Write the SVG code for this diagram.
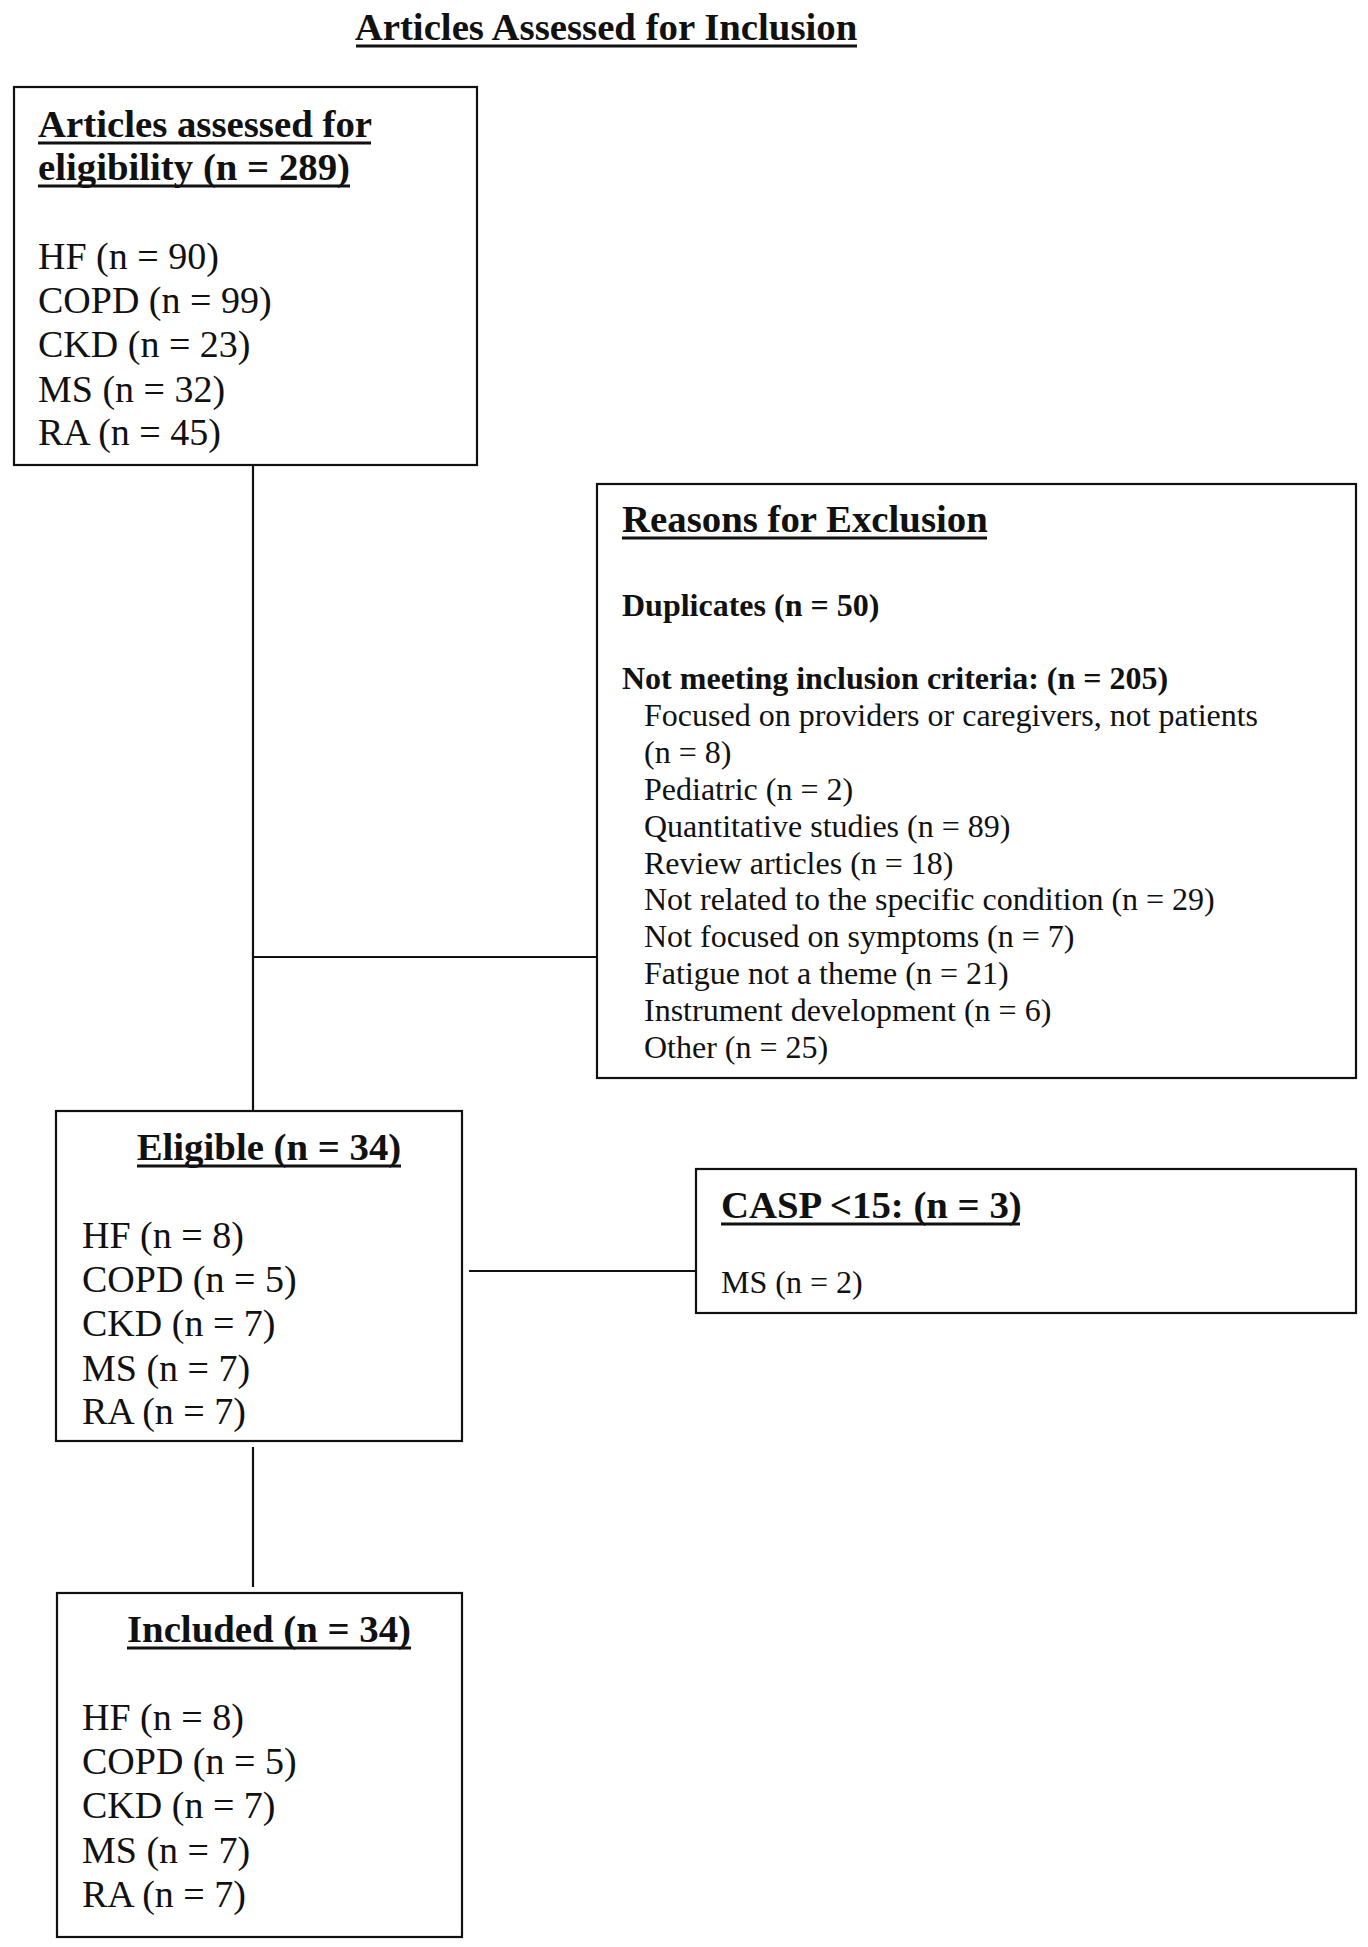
<svg xmlns="http://www.w3.org/2000/svg" width="1368" height="1947" viewBox="0 0 1368 1947">
<style>
text { font-family: "Liberation Serif", "Times New Roman", serif; fill: #111; }
.h { font-weight: bold; font-size: 38.8px; }
.b { font-size: 38px; }
.s { font-size: 32px; }
.sb { font-size: 32px; font-weight: bold; }
.u { stroke: #111; stroke-width: 3; }
.box { fill: #fff; stroke: #111; stroke-width: 2.2; }
.conn line { stroke: #111; stroke-width: 2.2; }
</style>
<rect width="1368" height="1947" fill="#fff"/>
<g id="title">
  <text class="h" x="606" y="40" text-anchor="middle">Articles Assessed for Inclusion</text>
  <line class="u" x1="356" y1="46" x2="857" y2="46"/>
</g>
<g class="conn" id="connectors">
  <line x1="253" y1="465" x2="253" y2="1111"/>
  <line x1="253" y1="957" x2="597" y2="957"/>
  <line x1="469" y1="1271" x2="696" y2="1271"/>
  <line x1="253" y1="1447" x2="253" y2="1587"/>
</g>
<g id="assessed">
  <rect class="box" x="14" y="87" width="463" height="378"/>
  <text class="h" x="38" y="137">Articles assessed for</text>
  <line class="u" x1="38" y1="143" x2="371" y2="143"/>
  <text class="h" x="38" y="180">eligibility (n = 289)</text>
  <line class="u" x1="38" y1="186" x2="350" y2="186"/>
  <text class="b" x="38" y="269">HF (n = 90)</text>
  <text class="b" x="38" y="313">COPD (n = 99)</text>
  <text class="b" x="38" y="357">CKD (n = 23)</text>
  <text class="b" x="38" y="402">MS (n = 32)</text>
  <text class="b" x="38" y="445">RA (n = 45)</text>
</g>
<g id="exclusion">
  <rect class="box" x="597" y="484" width="759" height="594"/>
  <text class="h" x="622" y="532">Reasons for Exclusion</text>
  <line class="u" x1="622" y1="538" x2="987" y2="538"/>
  <text class="sb" x="622" y="616">Duplicates (n = 50)</text>
  <text class="sb" x="622" y="689">Not meeting inclusion criteria: (n = 205)</text>
  <text class="s" x="644" y="726">Focused on providers or caregivers, not patients</text>
  <text class="s" x="644" y="763">(n = 8)</text>
  <text class="s" x="644" y="800">Pediatric (n = 2)</text>
  <text class="s" x="644" y="837">Quantitative studies (n = 89)</text>
  <text class="s" x="644" y="874">Review articles (n = 18)</text>
  <text class="s" x="644" y="910">Not related to the specific condition (n = 29)</text>
  <text class="s" x="644" y="947">Not focused on symptoms (n = 7)</text>
  <text class="s" x="644" y="984">Fatigue not a theme (n = 21)</text>
  <text class="s" x="644" y="1021">Instrument development (n = 6)</text>
  <text class="s" x="644" y="1058">Other (n = 25)</text>
</g>
<g id="eligible">
  <rect class="box" x="56" y="1111" width="406" height="330"/>
  <text class="h" x="269" y="1160" text-anchor="middle">Eligible (n = 34)</text>
  <line class="u" x1="137" y1="1166" x2="401" y2="1166"/>
  <text class="b" x="82" y="1248">HF (n = 8)</text>
  <text class="b" x="82" y="1292">COPD (n = 5)</text>
  <text class="b" x="82" y="1336">CKD (n = 7)</text>
  <text class="b" x="82" y="1381">MS (n = 7)</text>
  <text class="b" x="82" y="1424">RA (n = 7)</text>
</g>
<g id="casp">
  <rect class="box" x="696" y="1169" width="660" height="144"/>
  <text class="h" x="721" y="1218">CASP &lt;15: (n = 3)</text>
  <line class="u" x1="721" y1="1224" x2="1020" y2="1224"/>
  <text class="s" x="721" y="1293">MS (n = 2)</text>
</g>
<g id="included">
  <rect class="box" x="57" y="1593" width="405" height="344"/>
  <text class="h" x="269" y="1642" text-anchor="middle">Included (n = 34)</text>
  <line class="u" x1="127" y1="1648" x2="411" y2="1648"/>
  <text class="b" x="82" y="1730">HF (n = 8)</text>
  <text class="b" x="82" y="1774">COPD (n = 5)</text>
  <text class="b" x="82" y="1818">CKD (n = 7)</text>
  <text class="b" x="82" y="1863">MS (n = 7)</text>
  <text class="b" x="82" y="1907">RA (n = 7)</text>
</g>
</svg>
